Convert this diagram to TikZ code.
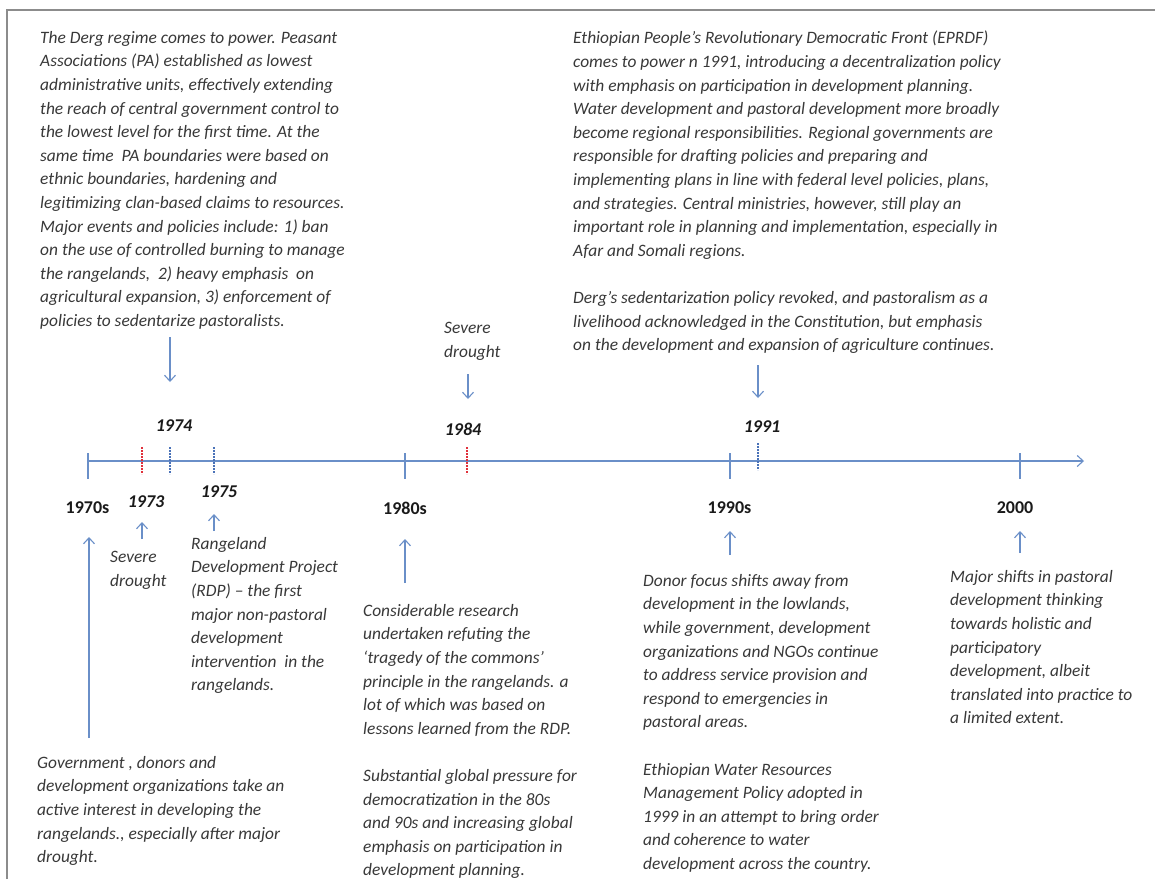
\documentclass[tikz,border=0pt]{standalone}
\usepackage{fontspec}
\setmainfont{Carlito}
\usetikzlibrary{arrows.meta}
\definecolor{tlblue}{HTML}{6A8FC8}
\definecolor{dotblue}{HTML}{4A72B8}
\definecolor{dotred}{HTML}{E0303A}
\definecolor{txt}{HTML}{383838}
\definecolor{lab}{HTML}{1A1A1A}
\definecolor{frame}{HTML}{8C8C8C}
\tikzset{
  body/.style={anchor=north west, inner sep=0pt, align=left, text=txt,
    font=\fontsize{17.4}{23.6}\selectfont\itshape},
  decade/.style={inner sep=0pt, text=lab, font=\fontsize{18}{22}\selectfont\bfseries},
  year/.style={inner sep=0pt, text=lab, font=\fontsize{18}{22}\selectfont\bfseries\itshape},
  arr/.style={draw=tlblue, line width=1.1pt, -{Straight Barb[length=6pt,width=11pt,line width=1.1pt]}},
  tick/.style={draw=tlblue, line width=1.4pt},
  dottick/.style={line width=2pt, dash pattern=on 1.6pt off 1.4pt}
}
\begin{document}
\begin{tikzpicture}[x=1pt,y=-1pt]
\useasboundingbox (0,0) rectangle (1155,879);
\begin{scope}
\clip (0,0) rectangle (1155,879);
% frame
\draw[frame, line width=1.5pt] (7,879) -- (7,10) -- (1160,10);

% timeline
\coordinate (tstart) at (88,461);
\coordinate (tend) at (1084,461);
\draw[arr] (tstart) -- (tend);
\draw[draw=tlblue, line width=2.4pt] (88,453) -- (88,479);
\draw[tick] (405,453) -- (405,479);
\draw[tick] (730,453) -- (730,479);
\draw[tick] (1020,453) -- (1020,479);
\draw[dottick, dotred] (142,447) -- (142,474);
\draw[dottick, dotblue] (170,447) -- (170,474);
\draw[dottick, dotblue] (214,447) -- (214,474);
\draw[dottick, dotred] (467,447) -- (467,474);
\draw[dottick, dotblue] (758,443) -- (758,470);

% labels
\node[decade] (d70) at (87.5,508) {1970s};
\node[decade] (d80) at (405,508) {1980s};
\node[decade] (d90) at (729.5,508) {1990s};
\node[decade] (d00) at (1015,508) {2000};
\node[year] (y73) at (146,502) {1973};
\node[year] (y74) at (174,426) {1974};
\node[year] (y75) at (219,492) {1975};
\node[year] (y84) at (463,429) {1984};
\node[year] (y91) at (762,427) {1991};

% top texts
\node[body] (derg) at (40,31) {The Derg regime comes to power. Peasant\\
Associations (PA) established as lowest\\
administrative units, effectively extending\\
the reach of central government control to\\
the lowest level for the first time. At the\\
same time\ \ PA boundaries were based on\\
ethnic boundaries, hardening and\\
legitimizing clan-based claims to resources.\\
Major events and policies include: 1) ban\\
on the use of controlled burning to manage\\
the rangelands,\ \ 2) heavy emphasis\ \ on\\
agricultural expansion, 3) enforcement of\\
policies to sedentarize pastoralists.};

\node[body] (eprdf) at (573,31) {Ethiopian People’s Revolutionary Democratic Front (EPRDF)\\
comes to power n 1991, introducing a decentralization policy\\
with emphasis on participation in development planning.\\
Water development and pastoral development more broadly\\
become regional responsibilities. Regional governments are\\
responsible for drafting policies and preparing and\\
implementing plans in line with federal level policies, plans,\\
and strategies. Central ministries, however, still play an\\
important role in planning and implementation, especially in\\
Afar and Somali regions.\\[23.6pt]
Derg’s sedentarization policy revoked, and pastoralism as a\\
livelihood acknowledged in the Constitution, but emphasis\\
on the development and expansion of agriculture continues.};

\node[body] (sev84) at (444,322) {Severe\\drought};

% bottom texts
\node[body] (sev73) at (110,551) {Severe\\drought};
\node[body] (rdp) at (191,537) {Rangeland\\
Development Project\\
(RDP) – the first\\
major non-pastoral\\
development\\
intervention\ \ in the\\
rangelands.};
\node[body] (gov) at (37,756) {Government , donors and\\
development organizations take an\\
active interest in developing the\\
rangelands., especially after major\\
drought.};
\node[body] (cons) at (363,604) {Considerable research\\
undertaken refuting the\\
‘tragedy of the commons’\\
principle in the rangelands. a\\
lot of which was based on\\
lessons learned from the RDP.\\[23.6pt]
Substantial global pressure for\\
democratization in the 80s\\
and 90s and increasing global\\
emphasis on participation in\\
development planning.};
\node[body] (donor) at (643,574) {Donor focus shifts away from\\
development in the lowlands,\\
while government, development\\
organizations and NGOs continue\\
to address service provision and\\
respond to emergencies in\\
pastoral areas.\\[23.6pt]
Ethiopian Water Resources\\
Management Policy adopted in\\
1999 in an attempt to bring order\\
and coherence to water\\
development across the country.};
\node[body] (major) at (950,570) {Major shifts in pastoral\\
development thinking\\
towards holistic and\\
participatory\\
development, albeit\\
translated into practice to\\
a limited extent.};

% arrow end points
\coordinate (a74s) at (170,337); \coordinate (a74e) at (170,382);
\coordinate (a84s) at (468,374); \coordinate (a84e) at (468,399);
\coordinate (a91s) at (758,365); \coordinate (a91e) at (758,398);
\coordinate (a70s) at (89,738);  \coordinate (a70e) at (89,537);
\coordinate (a73s) at (142,539); \coordinate (a73e) at (142,522);
\coordinate (a75s) at (214,531); \coordinate (a75e) at (214,514);
\coordinate (a80s) at (405,583); \coordinate (a80e) at (405,539);
\coordinate (a90s) at (730,555); \coordinate (a90e) at (730,531);
\coordinate (a00s) at (1020,553); \coordinate (a00e) at (1020,531);
\draw[arr] (a74s) -- (a74e);
\draw[arr] (a84s) -- (a84e);
\draw[arr] (a91s) -- (a91e);
\draw[arr] (a70s) -- (a70e);
\draw[arr] (a73s) -- (a73e);
\draw[arr] (a75s) -- (a75e);
\draw[arr] (a80s) -- (a80e);
\draw[arr] (a90s) -- (a90e);
\draw[arr] (a00s) -- (a00e);
\end{scope}
\end{tikzpicture}
\end{document}
